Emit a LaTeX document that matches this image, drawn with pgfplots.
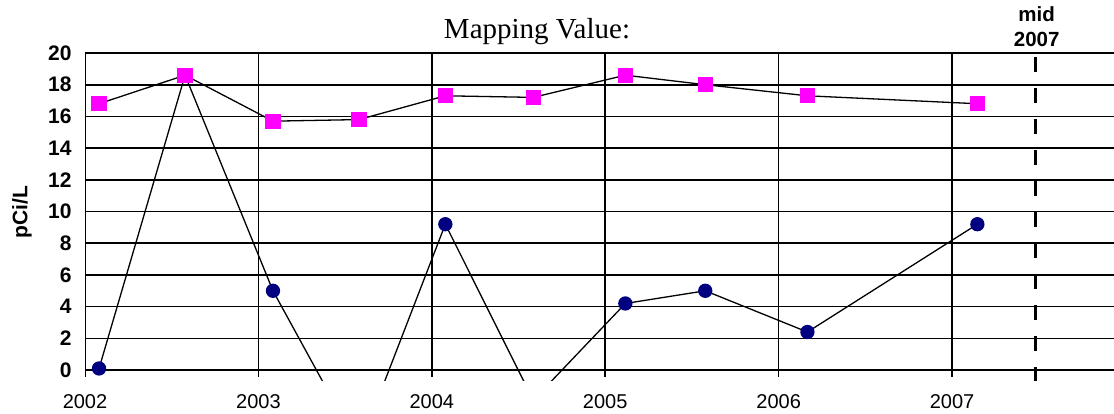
\documentclass[border=0pt]{standalone}
\usepackage{pgfplots}
\pgfplotsset{compat=1.18}
\usepackage{fontspec}
\setmainfont{Liberation Sans}
\newfontfamily\timesfont{Liberation Serif}

\definecolor{sqpink}{HTML}{FF00FF}
\definecolor{dotnavy}{HTML}{000080}

\begin{document}
\begin{tikzpicture}
\path[use as bounding box] (-85bp,-33bp) rectangle (1029bp,381bp);
\begin{axis}[
    at={(0,0)}, anchor=south west,
    scale only axis,
    width=1029bp, height=328bp,
    xmin=2002, xmax=2007.934,
    ymin=-0.69, ymax=20,
    xtick={2002,2003,2004,2005,2006,2007},
    ytick={0,2,...,20},
    ymajorgrids,
    grid style={black, line width=1.6bp},
    axis line style={draw=none},
    major tick length=0pt,
    tick style={draw=none},
    /pgf/number format/assume math mode=true,
    /pgf/number format/set thousands separator={},
    xticklabel style={font=\fontsize{20bp}{24bp}\selectfont, yshift=-10bp},
    yticklabel style={font=\fontsize{21bp}{25bp}\selectfont\bfseries, xshift=-10bp},
]

% year lines, with the small tick below zero
\pgfplotsinvokeforeach{2002,2003,2004,2005,2006,2007}{
    \draw[black, line width=1.6bp] (axis cs:#1,20) -- (axis cs:#1,-0.42);
}

% mid 2007 marker
\draw[black, line width=3bp, dash pattern=on 15bp off 16bp]
    (axis cs:2007.479,19.75) -- (axis cs:2007.479,-0.69);

\addplot[black, line width=1.3bp, mark=*, mark size=6.5bp,
    mark options={fill=dotnavy, draw=dotnavy}] coordinates {
    (2002.081, 0.1)
    (2002.577, 18.6)
    (2003.084, 5.0)
    (2003.580, -4.9)
    (2004.078, 9.2)
    (2004.585, -1.9)
    (2005.116, 4.2)
    (2005.577, 5.0)
    (2006.166, 2.4)
    (2007.146, 9.2)
};

\addplot[black, line width=1.3bp, mark=square*, mark size=7bp,
    mark options={fill=sqpink, draw=sqpink}] coordinates {
    (2002.081, 16.8)
    (2002.577, 18.6)
    (2003.084, 15.7)
    (2003.580, 15.8)
    (2004.078, 17.3)
    (2004.585, 17.2)
    (2005.116, 18.6)
    (2005.577, 18.0)
    (2006.166, 17.3)
    (2007.146, 16.8)
};

\end{axis}

\node[font=\timesfont\fontsize{29bp}{33bp}\selectfont, anchor=base] at (452bp,342bp) {Mapping Value:};
\node[font=\bfseries\fontsize{20.5bp}{25bp}\selectfont, anchor=base] at (951.7bp,359bp) {mid};
\node[font=\bfseries\fontsize{20.5bp}{25bp}\selectfont, anchor=base] at (951.7bp,334bp) {2007};
\node[rotate=90, font=\bfseries\fontsize{21bp}{25bp}\selectfont] at (-63bp,169bp) {pCi/L};
\end{tikzpicture}
\end{document}
